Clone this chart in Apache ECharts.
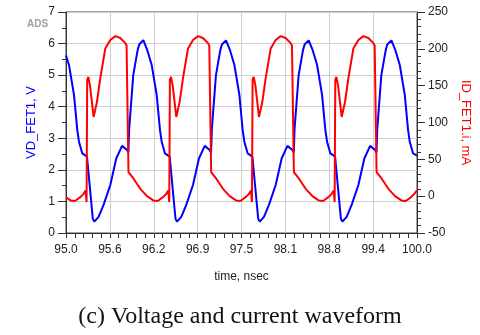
<!DOCTYPE html>
<html>
<head>
<meta charset="utf-8">
<script src="https://cdn.jsdelivr.net/npm/echarts@6/dist/echarts.min.js"></script>
<style>
  html, body { margin: 0; padding: 0; background: #fff; }
  #chart { width: 480px; height: 335px; }
</style>
</head>
<body>
<div id="chart"></div>
<script>
// tick labels on the time axis (as printed in the plot)
const xTickLabels = ["95.0", "95.6", "96.2", "96.9", "97.5", "98.1", "98.8", "99.4", "100.0"];

// VD_FET1 (V)
const vTime = [
  95.0, 95.043, 95.114, 95.161, 95.185, 95.232, 95.299, 95.382, 95.403, 95.464, 95.535, 95.631, 95.716, 95.798, 95.869,
  95.889, 95.900, 95.958, 96.021, 96.043, 96.101, 96.158, 96.221, 96.292, 96.339, 96.363, 96.410, 96.477, 96.560, 96.581, 96.642, 96.713, 96.809, 96.894, 96.976, 97.047,
  97.067, 97.078, 97.136, 97.199, 97.221, 97.279, 97.336, 97.399, 97.470, 97.517, 97.541, 97.588, 97.655, 97.738, 97.759, 97.820, 97.891, 97.987, 98.072, 98.154, 98.225,
  98.245, 98.256, 98.314, 98.377, 98.399, 98.457, 98.514, 98.577, 98.648, 98.695, 98.719, 98.766, 98.833, 98.916, 98.937, 98.998, 99.069, 99.165, 99.250, 99.332, 99.403,
  99.423, 99.434, 99.492, 99.555, 99.577, 99.635, 99.692, 99.755, 99.826, 99.873, 99.897, 99.944, 100.0
];
const vValue = [
  5.62, 5.32, 4.37, 3.26, 2.89, 2.52, 2.42, 0.45, 0.36, 0.51, 0.89, 1.52, 2.36, 2.76, 2.63,
  2.55, 3.3, 5.0, 5.8, 5.97, 6.11, 5.79, 5.32, 4.37, 3.26, 2.89, 2.52, 2.42, 0.45, 0.36, 0.51, 0.89, 1.52, 2.36, 2.76, 2.63,
  2.55, 3.3, 5.0, 5.8, 5.97, 6.1, 5.79, 5.32, 4.37, 3.26, 2.89, 2.52, 2.42, 0.45, 0.36, 0.51, 0.89, 1.52, 2.36, 2.76, 2.63,
  2.55, 3.3, 5.0, 5.8, 5.97, 6.1, 5.79, 5.32, 4.37, 3.26, 2.89, 2.52, 2.42, 0.45, 0.36, 0.51, 0.89, 1.52, 2.36, 2.76, 2.63,
  2.55, 3.3, 5.0, 5.8, 5.97, 6.1, 5.79, 5.32, 4.37, 3.26, 2.89, 2.52, 2.45
];

// ID_FET1.i (mA)
const iTime = [
  95.0, 95.065, 95.128, 95.204, 95.249, 95.279, 95.293, 95.302, 95.318, 95.342, 95.393, 95.441, 95.488, 95.560, 95.631, 95.702, 95.773, 95.845, 95.863, 95.880, 95.884,
  95.890, 95.963, 96.058, 96.154, 96.243, 96.306, 96.382, 96.427, 96.457, 96.471, 96.480, 96.496, 96.520, 96.571, 96.619, 96.666, 96.738, 96.809, 96.880, 96.951, 97.023, 97.041, 97.058, 97.062,
  97.068, 97.141, 97.236, 97.332, 97.421, 97.484, 97.560, 97.605, 97.635, 97.649, 97.658, 97.674, 97.698, 97.749, 97.797, 97.844, 97.916, 97.987, 98.058, 98.129, 98.201, 98.219, 98.236, 98.240,
  98.246, 98.319, 98.414, 98.510, 98.599, 98.662, 98.738, 98.783, 98.813, 98.827, 98.836, 98.852, 98.876, 98.927, 98.975, 99.022, 99.094, 99.165, 99.236, 99.307, 99.379, 99.397, 99.414, 99.418,
  99.424, 99.497, 99.592, 99.688, 99.777, 99.840, 99.916, 99.961, 100.0
];
const iValue = [
  -1.5, -5.8, -6.5, -1.3, 3, 7.8, -8, 158, 162, 150, 107.5, 128, 160, 200.6, 212, 217.3, 214.7, 207.7, 204.5, 207, 207,
  32.7, 23.7, 10, 0, -5.8, -6.5, -1.3, 3, 7.8, -8, 158, 162, 150, 107.5, 128, 160, 200.6, 212, 217.3, 214.7, 207.7, 204.5, 207, 207,
  32.7, 23.7, 10, 0, -5.8, -6.5, -1.3, 3, 7.8, -8, 158, 162, 150, 107.5, 128, 160, 200.6, 212, 217.3, 214.7, 207.7, 204.5, 207, 207,
  32.7, 23.7, 10, 0, -5.8, -6.5, -1.3, 3, 7.8, -8, 158, 162, 150, 107.5, 128, 160, 200.6, 212, 217.3, 214.7, 207.7, 204.5, 207, 207,
  32.7, 23.7, 10, 0, -5.8, -6.5, -1.3, 3, 8
];

const chart = echarts.init(document.getElementById("chart"), null, { renderer: "canvas" });

const sans = "Liberation Sans, Arial, sans-serif";
const axisColor = "#333";

const options = {
  animation: false,
  title: [
    {
      text: "ADS",
      left: 22,
      top: 14,
      textStyle: { color: "#a0a0a0", fontSize: 10, fontWeight: "bold", fontFamily: sans }
    },
    {
      text: "(c) Voltage and current waveform",
      left: "center",
      top: 300,
      textStyle: { color: "#111", fontSize: 24, fontWeight: "normal", fontFamily: "Liberation Serif, Times New Roman, serif" }
    }
  ],
  grid: {
    left: 66,
    right: 63,
    top: 12,
    bottom: 102,
    show: true,
    borderColor: "#444",
    borderWidth: 1
  },
  xAxis: {
    type: "value",
    min: 95,
    max: 100,
    interval: 0.625,
    name: "time, nsec",
    nameLocation: "middle",
    nameGap: 38,
    nameTextStyle: { color: "#222", fontSize: 12, fontFamily: sans },
    axisLine: { lineStyle: { color: axisColor } },
    axisTick: { length: 5, lineStyle: { color: axisColor } },
    minorTick: { show: true, splitNumber: 5, length: 5, lineStyle: { color: axisColor } },
    splitLine: { show: true, lineStyle: { color: "#cfcfcf" } },
    axisLabel: {
      margin: 11,
      color: "#222",
      fontSize: 12,
      fontFamily: sans,
      formatter: (v) => xTickLabels[Math.round((v - 95) / 0.625)]
    }
  },
  yAxis: [
    {
      type: "value",
      position: "left",
      min: 0,
      max: 7,
      interval: 1,
      name: "VD_FET1, V",
      nameLocation: "middle",
      nameRotate: 90,
      nameGap: 28,
      nameTextStyle: { color: "#0000ff", fontSize: 13, fontFamily: sans },
      axisLine: { show: true, lineStyle: { color: axisColor } },
      axisTick: { show: true, length: 8, lineStyle: { color: axisColor } },
      minorTick: { show: true, splitNumber: 2, length: 4, lineStyle: { color: axisColor } },
      splitLine: { show: true, lineStyle: { color: "#cfcfcf" } },
      axisLabel: { margin: 11, color: "#222", fontSize: 12, fontFamily: sans }
    },
    {
      type: "value",
      position: "right",
      min: -50,
      max: 250,
      interval: 50,
      name: "ID_FET1.i, mA",
      nameLocation: "middle",
      nameRotate: -90,
      nameGap: 40,
      nameTextStyle: { color: "#ff0000", fontSize: 13, fontFamily: sans },
      axisLine: { show: true, lineStyle: { color: axisColor } },
      axisTick: { show: true, length: 8, lineStyle: { color: axisColor } },
      minorTick: { show: true, splitNumber: 5, length: 4, lineStyle: { color: axisColor } },
      splitLine: { show: false },
      axisLabel: { margin: 11, color: "#222", fontSize: 12, fontFamily: sans }
    }
  ],
  series: [
    {
      name: "VD_FET1",
      type: "line",
      yAxisIndex: 0,
      showSymbol: false,
      lineStyle: { color: "#0000ff", width: 2 },
      data: vTime.map((t, k) => [t, vValue[k]])
    },
    {
      name: "ID_FET1.i",
      type: "line",
      yAxisIndex: 1,
      showSymbol: false,
      lineStyle: { color: "#ff0000", width: 2 },
      data: iTime.map((t, k) => [t, iValue[k]])
    }
  ]
};

chart.setOption(options);
</script>
</body>
</html>
